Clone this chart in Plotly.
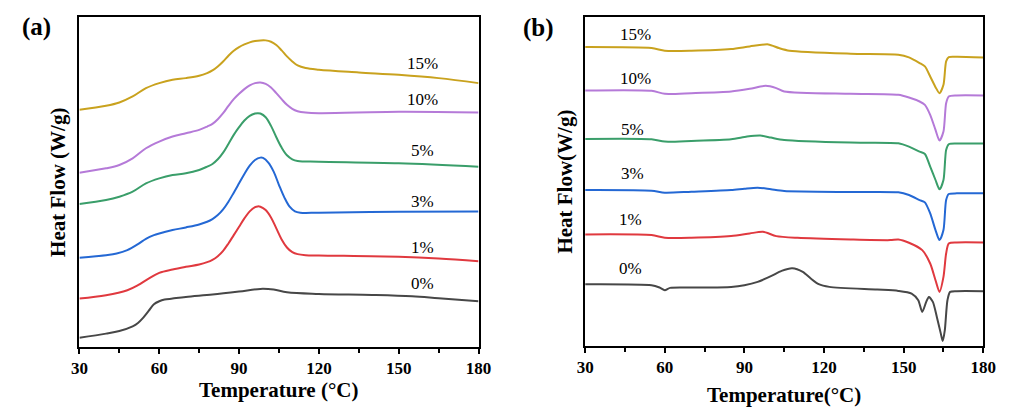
import plotly.graph_objects as go

series_names = ["0%", "1%", "3%", "5%", "10%", "15%"]
colors = ["#474747", "#e0393f", "#2468d4", "#3a9e6a", "#b57ad8", "#c9a21e"]

# ---------- panel (a) ----------
a_T0 = [30, 40, 45, 50, 52, 54, 56, 58, 60, 62, 65, 70, 80, 90, 98, 103, 108, 120, 140, 155, 165, 180]
a_H0 = [2.8, 4.0, 4.8, 6.2, 7.2, 8.8, 10.8, 12.8, 13.7, 14.2, 14.5, 15.0, 15.7, 16.6, 17.4, 17.2, 16.4, 15.9, 15.6,
        15.2, 14.6, 13.7]
a_T1 = [30, 40, 48, 52, 56, 60, 65, 70, 75, 78, 80, 82, 84, 86, 88, 90, 92, 94, 96, 97, 98, 100, 102, 104, 106,
        108, 110, 112, 115, 120, 150, 165, 180]
a_H1 = [14.5, 15.5, 17.0, 18.5, 20.5, 22.2, 23.2, 24.0, 24.7, 25.4, 26.1, 27.2, 28.8, 31.0, 33.5, 36.0, 38.5, 40.6,
        41.9, 42.1, 42.0, 41.0, 38.8, 35.5, 32.2, 29.8, 28.4, 27.8, 27.5, 27.4, 27.0, 26.5, 25.7]
a_T3 = [30, 40, 44, 48, 52, 55, 58, 60, 65, 70, 75, 78, 80, 82, 84, 86, 88, 90, 92, 94, 96, 98, 99, 101, 103, 105,
        107, 109, 111, 113, 120, 150, 180]
a_H3 = [26.7, 27.5, 28.0, 29.0, 30.8, 32.4, 33.5, 34.0, 35.0, 35.8, 36.7, 37.5, 38.3, 39.5, 41.2, 43.5, 46.2, 49.0,
        51.8, 54.3, 56.0, 56.7, 56.6, 55.2, 52.5, 48.5, 44.8, 42.0, 40.6, 40.2, 40.2, 40.5, 40.6]
a_T5 = [30, 40, 45, 50, 55, 60, 65, 70, 75, 78, 80, 82, 84, 86, 88, 90, 92, 94, 96, 97, 98, 100, 102, 104, 106,
        108, 110, 112, 120, 150, 180]
a_H5 = [42.8, 44.0, 45.0, 46.5, 49.0, 50.5, 51.5, 52.0, 53.0, 54.0, 54.8, 56.2, 58.2, 60.8, 63.5, 65.8, 67.8, 69.2,
        69.9, 70.0, 69.9, 68.8, 66.2, 62.8, 59.7, 57.4, 56.2, 55.7, 55.5, 55.0, 54.0]
a_T10 = [30, 40, 45, 50, 55, 60, 65, 70, 75, 78, 80, 82, 84, 86, 88, 90, 92, 94, 96, 98, 100, 102, 104, 106, 108,
         110, 112, 115, 120, 150, 180]
a_H10 = [52.2, 53.5, 54.5, 56.5, 59.5, 61.5, 63.0, 64.0, 65.0, 66.0, 66.8, 68.2, 70.0, 72.2, 74.2, 75.8, 77.2, 78.3,
         79.0, 79.2, 78.8, 77.7, 76.0, 74.2, 72.5, 71.3, 70.6, 70.2, 70.0, 70.4, 70.2]
a_T15 = [30, 40, 45, 50, 55, 60, 65, 70, 75, 78, 80, 82, 84, 86, 88, 90, 92, 94, 96, 98, 100, 102, 104, 106, 108,
         110, 112, 115, 120, 135, 150, 165, 180]
a_H15 = [71.0, 72.2, 73.2, 75.0, 77.5, 79.0, 80.0, 80.5, 81.2, 82.0, 82.8, 84.0, 85.5, 87.2, 88.7, 89.8, 90.6, 91.2,
         91.6, 91.8, 91.8, 91.4, 90.4, 88.8, 87.0, 85.5, 84.3, 83.5, 83.0, 82.2, 81.5, 80.5, 79.0]
a_label_T = [159, 159, 159, 159, 159, 159]
a_label_H = [19.0, 29.8, 43.7, 58.8, 74.2, 85.0]

# ---------- panel (b) ----------
b_T0 = [30, 55, 58, 60, 62, 70, 85, 90, 95, 100, 104, 108, 112, 115, 118, 122, 140, 148, 153, 155.5, 157, 158.5,
        159.5, 161, 162.5, 164, 164.7, 165.5, 166.5, 167.5, 170, 180]
b_H0 = [18.5, 18.2, 17.5, 16.7, 17.4, 17.5, 17.7, 18.2, 19.2, 20.9, 22.5, 23.3, 22.2, 20.2, 18.5, 17.7, 16.9, 16.5,
        15.7, 13.7, 10.2, 13.2, 14.7, 13.2, 8.7, 3.7, 1.5, 4.7, 13.7, 16.2, 16.4, 16.4]
b_T1 = [30, 55, 60, 70, 85, 92, 97, 102, 110, 130, 145, 148, 152, 157, 160, 162, 163.5, 165, 166, 167, 170, 180]
b_H1 = [33.4, 33.2, 32.4, 32.4, 32.9, 33.7, 34.2, 32.9, 32.4, 31.9, 31.7, 31.9, 30.9, 28.7, 24.7, 19.7, 16.2, 20.7,
        27.7, 30.7, 31.0, 31.0]
b_T3 = [30, 55, 60, 70, 85, 90, 95, 100, 105, 130, 148, 152, 156, 158, 160, 162, 163.5, 165, 166, 167, 170, 180]
b_H3 = [46.7, 46.5, 45.9, 46.2, 46.7, 47.1, 47.4, 46.9, 46.4, 46.1, 46.0, 45.2, 43.7, 43.0, 39.7, 34.7, 31.7, 34.7,
        43.7, 45.5, 45.7, 45.7]
b_T5 = [30, 55, 60, 70, 85, 91, 96, 100, 105, 130, 148, 152, 156, 158, 160, 162, 163.5, 165, 166, 167, 170, 180]
b_H5 = [62.0, 61.9, 61.2, 61.4, 61.9, 62.7, 63.0, 62.4, 61.7, 60.9, 60.7, 59.7, 58.2, 57.5, 53.7, 49.7, 46.9, 49.7,
        58.7, 60.4, 60.6, 60.6]
b_T10 = [30, 55, 60, 70, 85, 92, 98, 102, 105, 130, 148, 152, 156, 158, 160, 162, 163.5, 165, 166, 167, 170, 180]
b_H10 = [76.5, 76.4, 75.5, 75.7, 76.2, 77.0, 77.9, 77.2, 76.2, 75.5, 75.2, 74.4, 73.2, 72.2, 69.2, 64.7, 61.5, 64.2,
         72.7, 74.7, 75.0, 75.0]
b_T15 = [30, 55, 60, 70, 85, 92, 99, 103, 107, 130, 148, 152, 156, 158, 160, 162, 163.5, 165, 166, 167, 170, 180]
b_H15 = [89.5, 89.2, 88.4, 88.4, 88.9, 89.7, 90.3, 89.2, 88.4, 87.5, 87.2, 86.4, 84.7, 83.7, 80.7, 77.5, 75.7, 78.2,
         85.2, 86.5, 86.6, 86.4]
b_label_T = [47.0, 47.0, 47.7, 47.7, 48.8, 48.8]
b_label_H = [23.1, 38.0, 51.5, 64.7, 80.0, 93.2]

x_ticks = [30, 60, 90, 120, 150, 180]

a_T = [a_T0, a_T1, a_T3, a_T5, a_T10, a_T15]
a_H = [a_H0, a_H1, a_H3, a_H5, a_H10, a_H15]
b_T = [b_T0, b_T1, b_T3, b_T5, b_T10, b_T15]
b_H = [b_H0, b_H1, b_H3, b_H5, b_H10, b_H15]

FONT = "Liberation Serif"
fig = go.Figure()

for i, name in enumerate(series_names):
    fig.add_trace(go.Scatter(x=a_T[i], y=a_H[i], mode="lines", name=name,
                             line=dict(color=colors[i], width=2, shape="spline", smoothing=1.0),
                             xaxis="x", yaxis="y", showlegend=False))
    fig.add_trace(go.Scatter(x=b_T[i], y=b_H[i], mode="lines", name=name,
                             line=dict(color=colors[i], width=2, shape="spline", smoothing=0.7),
                             xaxis="x2", yaxis="y2", showlegend=False))

annotations = []
for i, name in enumerate(series_names):
    annotations.append(dict(x=a_label_T[i], y=a_label_H[i], xref="x", yref="y", text=name,
                            showarrow=False, font=dict(family=FONT, size=17, color="black")))
    annotations.append(dict(x=b_label_T[i], y=b_label_H[i], xref="x2", yref="y2", text=name,
                            showarrow=False, font=dict(family=FONT, size=17, color="black")))

title_font = dict(family=FONT, size=21, color="black")
annotations += [
    dict(x=276 / 1009, y=1 - 390 / 407, xref="paper", yref="paper", text="<b>Temperature (°C)</b>",
         showarrow=False, font=title_font, xanchor="center", yanchor="middle"),
    dict(x=792 / 1009, y=1 - 395 / 407, xref="paper", yref="paper", text="<b>Temperature(°C)</b>",
         showarrow=False, font=title_font, xanchor="center", yanchor="middle"),
    dict(x=50 / 1009, y=1 - 182 / 407, xref="paper", yref="paper", text="<b>Heat Flow (W/g)</b>",
         showarrow=False, font=title_font, textangle=-90, xanchor="center", yanchor="middle"),
    dict(x=568 / 1009, y=1 - 182 / 407, xref="paper", yref="paper", text="<b>Heat Flow(W/g)</b>",
         showarrow=False, font=title_font, textangle=-90, xanchor="center", yanchor="middle"),
    dict(x=28 / 1009, y=1 - 27 / 407, xref="paper", yref="paper", text="<b>(a)</b>",
         showarrow=False, font=dict(family=FONT, size=25, color="black"), xanchor="center", yanchor="middle"),
    dict(x=541 / 1009, y=1 - 28 / 407, xref="paper", yref="paper", text="<b>(b)</b>",
         showarrow=False, font=dict(family=FONT, size=25, color="black"), xanchor="center", yanchor="middle"),
]

xcommon = dict(range=[30, 180], tickvals=x_ticks, ticktext=[f"<b>{v}</b>" for v in x_ticks],
               ticks="outside", ticklen=5, tickwidth=2, tickcolor="black",
               minor=dict(dtick=15, tick0=30, ticks="outside", ticklen=4, tickwidth=2, tickcolor="black"),
               showline=True, linewidth=2, linecolor="black", mirror=True, showgrid=False, zeroline=False,
               tickfont=dict(family=FONT, size=17, color="black"))
ycommon = dict(showticklabels=False, ticks="", showline=True, linewidth=2, linecolor="black",
               mirror=True, showgrid=False, zeroline=False)

fig.update_layout(
    width=1009, height=407,
    margin=dict(l=0, r=0, t=0, b=0),
    paper_bgcolor="white", plot_bgcolor="white",
    xaxis=dict(domain=[72 / 1009, 480 / 1009], anchor="y", **xcommon),
    yaxis=dict(domain=[1 - 347 / 407, 1 - 17 / 407], anchor="x", range=[0, 98.8], **ycommon),
    xaxis2=dict(domain=[589 / 1009, 996 / 1009], anchor="y2", **xcommon),
    yaxis2=dict(domain=[1 - 346 / 407, 1 - 17 / 407], anchor="x2", range=[0, 98.5], **ycommon),
    annotations=annotations,
)

fig.write_html("out.html")
